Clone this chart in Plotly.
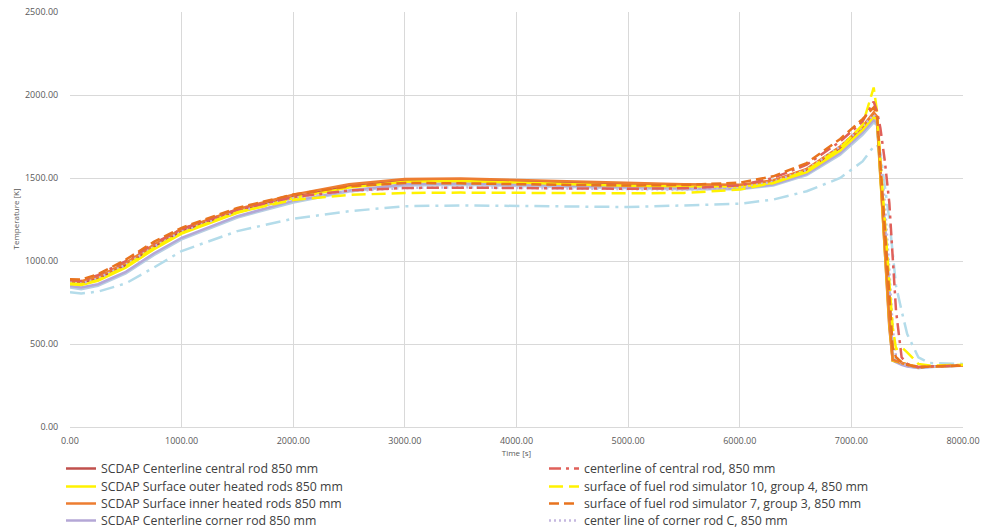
import plotly.graph_objects as go

time_s = [0, 100, 250, 500, 750, 1000, 1500, 2000, 2500, 3000, 3500, 4000, 4500, 5000, 5500, 6000,
          6300, 6600, 6900, 7100, 7200, 7230, 7260, 7300, 7340, 7370, 7400, 7450, 7500, 7600, 7700, 8000]

scdap_central = [875, 870, 895, 975, 1085, 1180, 1300, 1385, 1450, 1485, 1490, 1482, 1472, 1462, 1457, 1455,
                 1480, 1550, 1680, 1800, 1880, 1860, 1500, 1000, 600, 400, 395, 385, 375, 360, 365, 370]
scdap_outer = [860, 855, 880, 960, 1070, 1165, 1290, 1380, 1442, 1478, 1482, 1474, 1463, 1453, 1448, 1447,
               1470, 1535, 1665, 1790, 1870, 1850, 1500, 1050, 620, 400, 395, 385, 375, 360, 365, 370]
scdap_inner = [880, 878, 905, 988, 1098, 1192, 1312, 1400, 1462, 1494, 1497, 1488, 1477, 1467, 1462, 1460,
               1485, 1555, 1690, 1810, 1895, 1870, 1520, 1080, 640, 405, 398, 385, 375, 360, 365, 370]
scdap_corner = [850, 840, 860, 935, 1045, 1140, 1270, 1362, 1425, 1462, 1468, 1460, 1450, 1442, 1438, 1437,
                1460, 1525, 1650, 1775, 1850, 1830, 1500, 1230, 800, 400, 390, 375, 365, 355, 362, 370]
extra_solid = [840, 830, 850, 925, 1035, 1130, 1262, 1352, 1418, 1455, 1460, 1453, 1444, 1436, 1432, 1432,
               1455, 1518, 1640, 1760, 1835, 1820, 1560, 1250, 850, 420, 400, 380, 368, 355, 362, 370]

exp_central = [885, 880, 915, 1000, 1105, 1192, 1310, 1385, 1425, 1440, 1442, 1440, 1436, 1435, 1438, 1455,
               1500, 1580, 1720, 1840, 1960, 1900, 1800, 1600, 1350, 1050, 700, 420, 380, 362, 365, 372]
exp_outer = [865, 860, 885, 968, 1078, 1170, 1295, 1368, 1398, 1410, 1412, 1410, 1408, 1408, 1410, 1430,
             1470, 1545, 1680, 1820, 2045, 1900, 1600, 1250, 900, 600, 470, 480, 450, 380, 370, 375]
exp_inner = [890, 888, 920, 1008, 1115, 1200, 1320, 1400, 1450, 1470, 1468, 1462, 1458, 1455, 1458, 1472,
             1510, 1590, 1735, 1855, 1925, 1880, 1600, 1200, 800, 480, 420, 390, 375, 360, 365, 370]
exp_corner = [870, 865, 895, 978, 1085, 1178, 1298, 1378, 1420, 1440, 1444, 1440, 1435, 1430, 1430, 1440,
              1478, 1550, 1690, 1810, 1880, 1850, 1650, 1350, 950, 600, 420, 385, 370, 358, 363, 370]
extra_dashdot = [812, 805, 815, 865, 960, 1060, 1180, 1255, 1300, 1330, 1335, 1331, 1328, 1325, 1335, 1345,
                 1370, 1420, 1500, 1600, 1690, 1700, 1650, 1450, 1250, 1050, 850, 700, 560, 420, 385, 380]

x_ticks = [0, 1000, 2000, 3000, 4000, 5000, 6000, 7000, 8000]
y_ticks = [0, 500, 1000, 1500, 2000, 2500]

W, H = 984, 531
fig = go.Figure()

# extra series drawn in the chart but not listed in the visible legend
fig.add_trace(go.Scatter(x=time_s, y=extra_dashdot, mode="lines", showlegend=False,
                         line=dict(color="#B4DCEA", width=2.5, dash="15px,6px,3px,6px")))
fig.add_trace(go.Scatter(x=time_s, y=extra_solid, mode="lines", showlegend=False,
                         line=dict(color="#B7CEE3", width=2.5)))

left = [
    ("SCDAP Centerline central rod 850 mm", scdap_central, "#C0504D", "solid"),
    ("SCDAP Surface outer heated rods 850 mm", scdap_outer, "#FFF200", "solid"),
    ("SCDAP Surface inner heated rods 850 mm", scdap_inner, "#ED7D31", "solid"),
    ("SCDAP Centerline corner rod 850 mm", scdap_corner, "#B4A7D6", "solid"),
]
right = [
    ("centerline of central rod, 850 mm", exp_central, "#E0605A", "12px,5px,3px,5px"),
    ("surface of fuel rod simulator 10, group 4, 850 mm", exp_outer, "#FFF200", "14px,6px"),
    ("surface of fuel rod simulator 7, group 3, 850 mm", exp_inner, "#E8731E", "10px,5px"),
    ("center line of corner rod C, 850 mm", exp_corner, "#C5B8E0", "2px,3px"),
]

row_centers = [469, 487, 504, 521]
draw_order = [(left, 3), (left, 0), (left, 1), (left, 2), (right, 3), (right, 1), (right, 0), (right, 2)]
legend_layout = {}
for col, i in draw_order:
    name, y, c, d = col[i]
    idx = (0 if col is left else 4) + i + 1
    key = "legend" if idx == 1 else f"legend{idx}"
    fig.add_trace(go.Scatter(x=time_s, y=y, mode="lines", name=name, legend=key,
                             line=dict(color=c, width=2.5, dash=d)))
    text_x = 100 if col is left else 583
    legend_layout[key] = dict(
        xref="container", yref="container",
        x=(text_x - 39) / W, y=1 - (row_centers[i] - 15) / H,
        xanchor="left", yanchor="top", bgcolor="rgba(0,0,0,0)",
        font=dict(size=12.3, color="#404040"), itemwidth=30,
    )

font_family = "Open Sans, Noto Sans, sans-serif"
fig.update_layout(
    width=W, height=H,
    margin=dict(l=70, r=21, t=12, b=104, autoexpand=False),
    paper_bgcolor="white", plot_bgcolor="white",
    font=dict(family=font_family, color="#595959", size=9),
    xaxis=dict(range=[0, 8000], tickvals=x_ticks, ticktext=[f"{v:.2f}" for v in x_ticks],
               showgrid=True, gridcolor="#D9D9D9", gridwidth=1, zeroline=False, automargin=True,
               showline=True, linecolor="#D9D9D9",
               ticks="outside", ticklen=5, tickcolor="rgba(0,0,0,0)",
               tickfont=dict(size=9, color="#595959"),
               title=dict(text="Time [s]", font=dict(size=8, color="#595959"), standoff=4)),
    yaxis=dict(range=[0, 2500], tickvals=y_ticks, ticktext=[f"{v:.2f}" for v in y_ticks],
               showgrid=True, gridcolor="#D9D9D9", gridwidth=1, zeroline=False, automargin=False,
               showline=False,
               ticks="outside", ticklen=9, tickcolor="rgba(0,0,0,0)",
               tickfont=dict(size=9, color="#595959")),
    annotations=[dict(text="Temperature [K]", textangle=-90, showarrow=False,
                      xref="paper", yref="paper", x=-(70 - 15) / 893, y=0.5,
                      xanchor="center", yanchor="middle",
                      font=dict(size=8, color="#595959"))],
    **legend_layout,
)

fig.write_html("out.html", config={"displayModeBar": False},
               post_script="document.body.style.margin='0px';")
